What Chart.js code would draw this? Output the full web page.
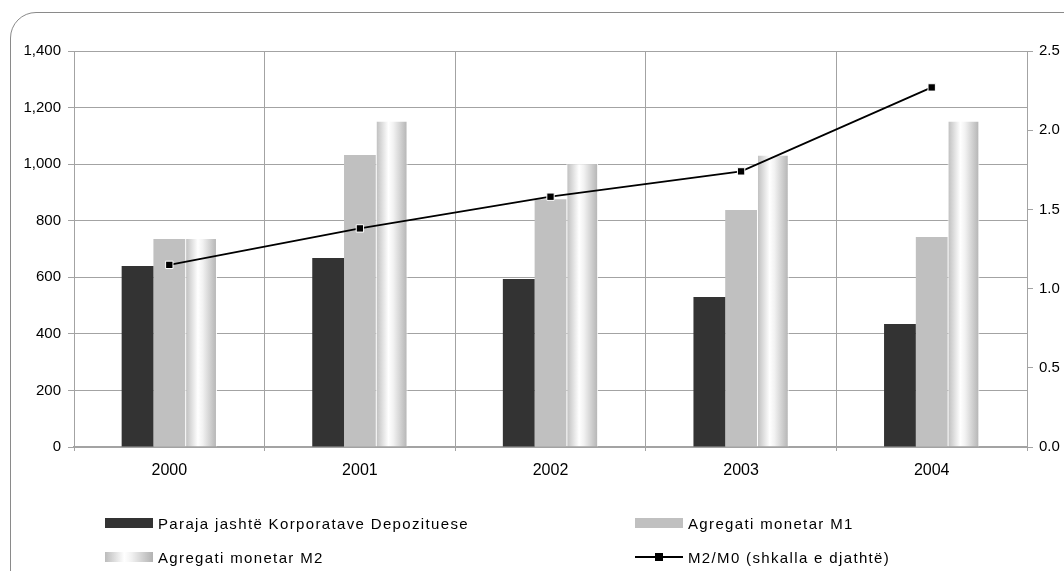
<!DOCTYPE html>
<html>
<head>
<meta charset="utf-8">
<script src="https://cdn.jsdelivr.net/npm/chart.js@4/dist/chart.umd.min.js"></script>
<style>
  body { margin: 0; background: #fff; font-family: "Liberation Sans", Arial, sans-serif; }
  #wrap { position: relative; width: 1064px; height: 571px; overflow: hidden; }
  #frame {
    position: absolute; left: 10px; top: 12px; width: 1120px; height: 640px;
    border: 1px solid #8a8a8a; border-radius: 26px; box-sizing: border-box;
  }
  #chart { position: absolute; left: 0; top: 0; }
  .item { position: absolute; height: 20px; display: flex; align-items: center; }
  .swatch { width: 48px; height: 10px; margin-right: 5px; }
  .label { font-size: 15px; letter-spacing: 1.35px; color: #000; white-space: nowrap; }
  .lineKey { position: relative; width: 48px; height: 10px; margin-right: 5px; }
  .lineKey::before { content: ""; position: absolute; left: 0; right: 0; top: 4px; height: 2px; background: #000; }
  .lineKey::after { content: ""; position: absolute; left: 20px; top: 1px; width: 8px; height: 8px; background: #000; }
</style>
</head>
<body>
<div id="wrap">
  <div id="frame"></div>
  <canvas id="chart" width="1064" height="571"></canvas>
  <div class="item" style="left:105px; top:513px;"><div class="swatch" id="sw0"></div><span class="label" id="lb0"></span></div>
  <div class="item" style="left:635px; top:513px;"><div class="swatch" id="sw1"></div><span class="label" id="lb1"></span></div>
  <div class="item" style="left:105px; top:547px;"><div class="swatch" id="sw2"></div><span class="label" id="lb2"></span></div>
  <div class="item" style="left:635px; top:547px;"><div class="lineKey"></div><span class="label" id="lb3"></span></div>
</div>
<script>
// chart data
const years = ["2000", "2001", "2002", "2003", "2004"];
const seriesNames = [
  "Paraja jashtë Korporatave Depozituese",
  "Agregati monetar M1",
  "Agregati monetar M2",
  "M2/M0 (shkalla e djathtë)",
];
const currencyOutside = [640, 668, 594, 530, 435];
const aggregateM1 = [735, 1032, 876, 838, 742];
const aggregateM2 = [739, 1153, 1003, 1033, 1153];
const ratioM2M0 = [1.15, 1.38, 1.58, 1.74, 2.27];
const leftTicks = [0, 200, 400, 600, 800, 1000, 1200, 1400];
const rightTicks = [0, 0.5, 1, 1.5, 2, 2.5];

const darkColor = "#333333";
const m1Color = "#c0c0c0";
const gridColor = "#a3a3a3";

// metallic gradient stops for the M2 bars
const m2Stops = [[0, "#bcbcbc"], [0.4, "#ffffff"], [0.55, "#f2f2f2"], [1, "#b2b2b2"]];

// html legend
document.getElementById("sw0").style.background = darkColor;
document.getElementById("sw1").style.background = m1Color;
document.getElementById("sw2").style.background =
  "linear-gradient(to right, " + m2Stops.map((s) => s[1] + " " + s[0] * 100 + "%").join(", ") + ")";
seriesNames.forEach((name, i) => {
  document.getElementById("lb" + i).textContent = name;
});

// paint each M2 bar with its own horizontal gradient
const m2Fill = {
  id: "m2Fill",
  beforeDatasetDraw(chart, args) {
    if (chart.data.datasets[args.index].label !== seriesNames[2]) return;
    const ctx = chart.ctx;
    args.meta.data.forEach((bar) => {
      const left = bar.x - bar.width / 2;
      const g = ctx.createLinearGradient(left, 0, left + bar.width, 0);
      m2Stops.forEach((s) => g.addColorStop(s[0], s[1]));
      bar.options = Object.assign({}, bar.options, { backgroundColor: g });
    });
  },
};

const ctx = document.getElementById("chart").getContext("2d");
Chart.defaults.font.family = '"Liberation Sans", Arial, sans-serif';
Chart.defaults.color = "#000";

new Chart(ctx, {
  type: "bar",
  data: {
    labels: years,
    datasets: [
      {
        type: "line",
        label: seriesNames[3],
        data: ratioM2M0,
        yAxisID: "y1",
        order: 0,
        borderColor: "#000",
        borderWidth: 1.8,
        tension: 0,
        pointStyle: "rect",
        pointRadius: 5.2,
        pointBackgroundColor: "#000",
        pointBorderColor: "#fff",
        pointBorderWidth: 1,
      },
      { label: seriesNames[0], data: currencyOutside, backgroundColor: darkColor, order: 1 },
      { label: seriesNames[1], data: aggregateM1, backgroundColor: m1Color, order: 2 },
      {
        label: seriesNames[2],
        data: aggregateM2,
        backgroundColor: "#e0e0e0",
        borderColor: "#fff",
        borderWidth: 1,
        order: 3,
      },
    ],
  },
  options: {
    responsive: false,
    devicePixelRatio: 1,
    animation: false,
    datasets: { bar: { categoryPercentage: 0.5, barPercentage: 1 } },
    layout: { padding: { left: 10, top: 51, right: 0, bottom: 79 } },
    plugins: { legend: { display: false }, tooltip: { enabled: false } },
    scales: {
      x: {
        offset: true,
        grid: { offset: true, color: gridColor, tickLength: 4 },
        border: { color: gridColor, width: 2 },
        ticks: { font: { size: 16 }, padding: 10 },
        afterFit: (scale) => { scale.height = 45; },
      },
      y: {
        min: 0,
        max: 1400,
        afterBuildTicks: (scale) => { scale.ticks = leftTicks.map((v) => ({ value: v })); },
        grid: { color: gridColor, tickLength: 6 },
        border: { color: gridColor },
        ticks: { font: { size: 15 }, padding: 7, callback: (v) => v.toLocaleString("en-US") },
        afterFit: (scale) => { scale.width = 64; },
      },
      y1: {
        position: "right",
        min: 0,
        max: 2.5,
        afterBuildTicks: (scale) => { scale.ticks = rightTicks.map((v) => ({ value: v })); },
        grid: { drawOnChartArea: false, color: gridColor, tickLength: 6 },
        border: { color: gridColor },
        ticks: { font: { size: 15 }, padding: 6, callback: (v) => v.toFixed(1) },
        afterFit: (scale) => { scale.width = 37; },
      },
    },
  },
  plugins: [m2Fill],
});
</script>
</body>
</html>
